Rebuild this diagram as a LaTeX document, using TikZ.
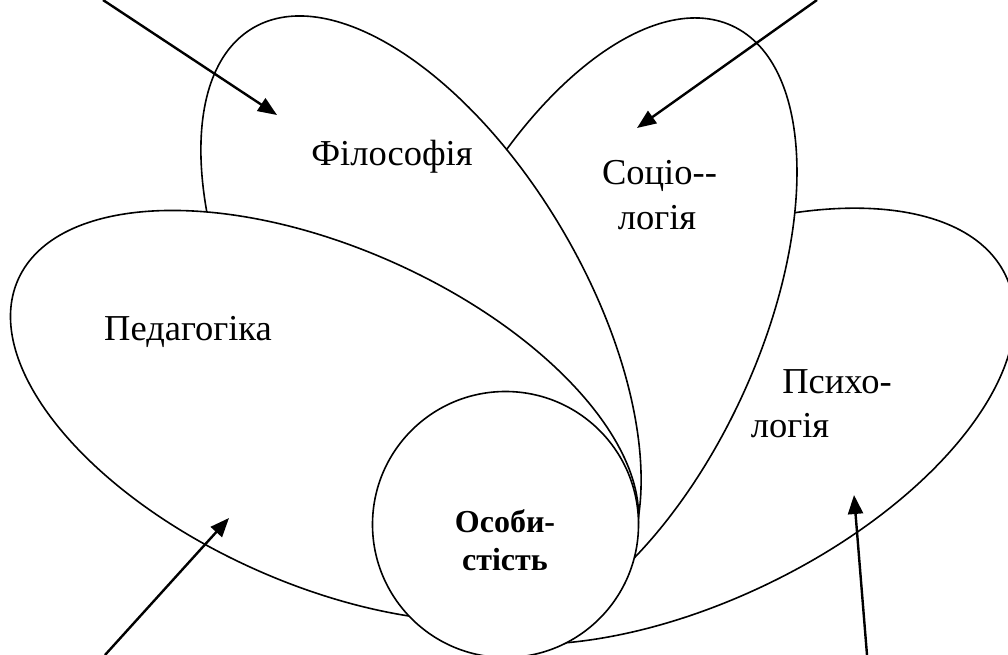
\documentclass[tikz,border=0pt]{standalone}
\usepackage{fontspec}
\setmainfont{Liberation Serif}
\usetikzlibrary{arrows.meta}
\begin{document}
\begin{tikzpicture}[x=1pt,y=1pt,
  petal/.style={draw=black, fill=white, line width=1.6pt},
  arr/.style={draw=black, line width=2.4pt, -{Triangle[length=19pt,width=15pt]}},
  lbl/.style={font=\fontsize{36.5}{44}\selectfont, inner sep=0pt, anchor=base},
  blbl/.style={font=\fontsize{32}{38}\selectfont\bfseries, inner sep=0pt, anchor=base}]
\useasboundingbox (0,-655) rectangle (1008,0);
% petals, back to front
\draw[petal, rotate around={25.8:(692.6,-426.3)}] (692.6,-426.3) ellipse [x radius=347.5, y radius=174.6];
\draw[petal, rotate around={65.1:(592,-328)}] (592,-328) ellipse [x radius=333.1, y radius=164.8];
\draw[petal, rotate around={-59.7:(421,-315)}] (421,-315) ellipse [x radius=332.6, y radius=165];
\draw[petal, rotate around={-24:(324.5,-416)}] (324.5,-416) ellipse [x radius=335.4, y radius=168.3];
\draw[petal] (505.5,-524.5) circle [radius=133];
% labels
\node[lbl] (phil) at (392,-165) {Філософія};
\node[lbl] (ped) at (188,-340) {Педагогіка};
\node[lbl] (soc1) at (659.5,-185) {Соціо\mbox{-}\mbox{-}};
\node[lbl] (soc2) at (657,-229) {логія};
\node[lbl] (psy1) at (837,-393) {Психо-};
\node[lbl] (psy2) at (790,-437) {логія};
\node[blbl] (os1) at (505,-532) {Особи-};
\node[blbl] (os2) at (505,-570) {стість};
% arrows
\coordinate (a1s) at (103,0);
\coordinate (a1e) at (277,-115);
\coordinate (a2s) at (817,0);
\coordinate (a2e) at (637,-128);
\coordinate (a3s) at (105,-655);
\coordinate (a3e) at (229,-518);
\coordinate (a4s) at (867,-655);
\coordinate (a4e) at (854,-495);
\draw[arr] (a1s) -- (a1e);
\draw[arr] (a2s) -- (a2e);
\draw[arr] (a3s) -- (a3e);
\draw[arr] (a4s) -- (a4e);
\end{tikzpicture}
\end{document}
